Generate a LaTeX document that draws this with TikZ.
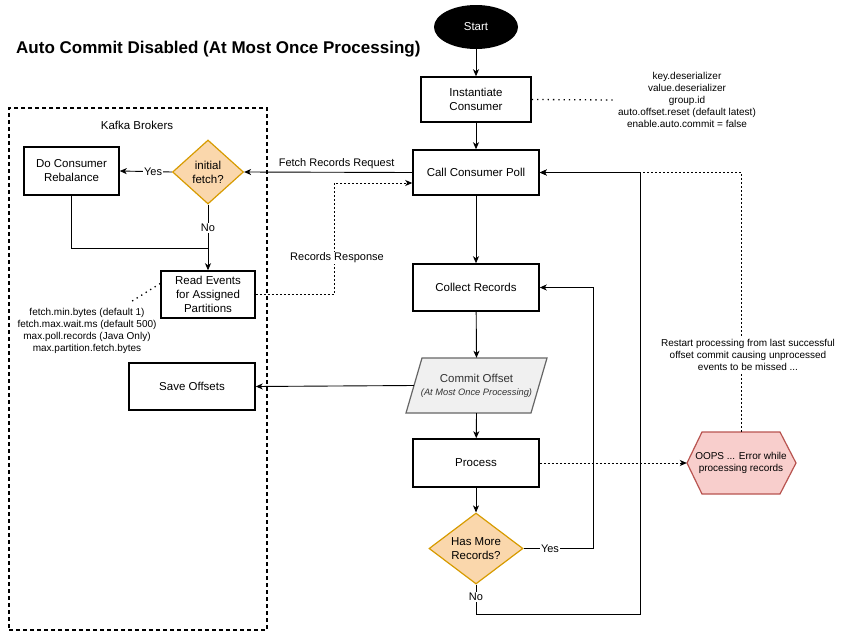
\documentclass[tikz,border=0pt]{standalone}
\usepackage{fontspec}
\setmainfont{Liberation Sans}
\usetikzlibrary{shapes.geometric,arrows.meta,calc}
\definecolor{diafill}{HTML}{FAD7AC}
\definecolor{diadraw}{HTML}{D79B00}
\definecolor{errfill}{HTML}{F8CECC}
\definecolor{errdraw}{HTML}{B85450}
\definecolor{parfill}{HTML}{F0F0F0}
\definecolor{pardraw}{HTML}{666666}
\definecolor{partext}{HTML}{333333}
\begin{document}
\begin{tikzpicture}[x=1pt,y=-1pt,
  box/.style={draw, line width=1.5pt, align=center, inner sep=0pt,
    font=\fontsize{11.5}{14}\selectfont},
  dia/.style={diamond, draw=diadraw, fill=diafill, line width=1.2pt, inner sep=0pt},
  dialbl/.style={align=center, font=\fontsize{11.5}{14}\selectfont, inner sep=0pt},
  conn/.style={line width=0.9pt, -{Stealth[length=7pt,width=6pt,inset=2pt]}},
  plain/.style={line width=0.9pt},
  dsh/.style={line width=0.9pt, dash pattern=on 2pt off 2pt},
  dts/.style={line width=1.3pt, dash pattern=on 1.3pt off 4pt},
  lbl/.style={fill=white, inner sep=1pt, font=\fontsize{11}{13}\selectfont},
  small/.style={align=center, font=\fontsize{10}{12}\selectfont, inner sep=2pt},
]
\useasboundingbox (0,0) rectangle (854,637);

% title
\node[anchor=west, font=\fontsize{17}{20}\bfseries\selectfont, inner sep=0pt] (title) at (16,49) {Auto Commit Disabled (At Most Once Processing)};

% Kafka brokers container
\node[draw, line width=1.5pt, dash pattern=on 4pt off 3pt, minimum width=258pt, minimum height=522pt, inner sep=0pt] (kafka) at (138,369) {};
\node[font=\fontsize{11.5}{14}\selectfont, inner sep=0pt] (kafkalbl) at (137,125) {Kafka Brokers};

% main flow
\node[ellipse, fill=black, text=white, minimum width=84pt, minimum height=44pt, inner sep=0pt, font=\fontsize{11.5}{14}\selectfont] (start) at (476,27) {Start};
\node[box, minimum width=110pt, minimum height=45pt] (inst) at (476,99.5) {Instantiate\\Consumer};
\node[box, minimum width=126pt, minimum height=45pt] (poll) at (476,172.5) {Call Consumer Poll};
\node[box, minimum width=126pt, minimum height=47pt] (collect) at (476,287.5) {Collect Records};

% commit offset parallelogram
\filldraw[fill=parfill, draw=pardraw, line width=1.2pt] (406,413) -- (422,358) -- (547,358) -- (531,413) -- cycle;
\node[minimum width=125pt, minimum height=55pt, inner sep=0pt] (commit) at (476.5,385.5) {};
\node[align=center, text=partext, inner sep=0pt] (committxt) at (476.5,386) {\fontsize{11.5}{14}\selectfont Commit Offset\\[1pt] {\fontsize{9.3}{11}\itshape\selectfont (At Most Once Processing)}};

\node[box, minimum width=126pt, minimum height=48pt] (process) at (476,463) {Process};

\node[dia, minimum width=94pt, minimum height=71pt] (hmr) at (476,548.5) {};
\node[dialbl] (hmrtxt) at (476,548.5) {Has More\\Records?};

% error hexagon
\filldraw[fill=errfill, draw=errdraw, line width=1.2pt] (687,463) -- (702,432) -- (780,432) -- (796,463) -- (780,494) -- (702,494) -- cycle;
\node[minimum width=109pt, minimum height=62pt, inner sep=0pt] (oops) at (741.5,463) {};
\node[align=center, inner sep=0pt, font=\fontsize{10}{12}\selectfont] (oopstxt) at (741,463) {OOPS ... Error while\\processing records};

% kafka side
\node[dia, minimum width=71pt, minimum height=64pt] (init) at (208,172) {};
\node[dialbl] (inittxt) at (208,172) {initial\\fetch?};
\node[box, minimum width=95pt, minimum height=48pt] (rebal) at (71.5,171) {Do Consumer\\Rebalance};
\node[box, minimum width=94pt, minimum height=47pt] (read) at (208,294.5) {Read Events\\for Assigned\\Partitions};
\node[box, minimum width=126pt, minimum height=47pt] (save) at (192,386.5) {Save Offsets};

% config notes
\node[small] (cfg) at (687,100) {key.deserializer\\value.deserializer\\group.id\\auto.offset.reset (default latest)\\enable.auto.commit = false};
\node[small] (fcfg) at (87,331) {fetch.min.bytes (default 1)\\fetch.max.wait.ms (default 500)\\max.poll.records (Java Only)\\max.partition.fetch.bytes};

% coordinates
\coordinate (merge) at (208,248);
\coordinate (rr1) at (334,294.5);
\coordinate (rr2) at (334,183);
\coordinate (yesc) at (593,548.5);
\coordinate (nob) at (476,614);
\coordinate (noc) at (640,614);
\coordinate (fcend) at (129,303);

% main connectors
\draw[conn] (start) -- (inst);
\draw[conn] (inst) -- (poll);
\draw[conn] (poll) -- (collect);
\draw[conn] (collect) -- (commit.north);
\draw[conn] (commit.south) -- (process);
\draw[conn] (process) -- (hmr.north);
\draw[conn] (hmr.east) -- node[lbl, pos=0.38] {Yes} (yesc) |- (collect.east);
\draw[conn] (hmr.south) -- node[lbl, pos=0.43] {No} (nob) -- (noc) |- (poll.east);
\draw[conn] (commit.west) -- (save.east);
\draw[conn, dsh] (process.east) -- (oops.west);
\draw[conn, dsh] (oops.north) |- (poll.east);
\node[small, fill=white, inner sep=1pt] (restart) at (748,355) {Restart processing from last successful\\offset commit causing unprocessed\\events to be missed ...};

% kafka connectors
\draw[conn] (poll.west) -- node[above=2pt, pos=0.45, font=\fontsize{11}{13}\selectfont, inner sep=1pt] (frr) {Fetch Records Request} (init.east);
\draw[conn] (init.west) -- node[lbl, pos=0.36] {Yes} (rebal.east);
\draw[conn] (init.south) -- node[lbl, pos=0.36] {No} (read.north);
\draw[plain] (rebal.south) |- (merge);
\draw[conn, dsh] (read.east) -- (rr1) -- (rr2) -- (rr2 -| poll.west);
\node[lbl] (rrlbl) at (337,258) {Records Response};

% dotted notes
\draw[dts] (inst.east) -- (cfg.west);
\draw[dts] ($(read.west)+(0,-11)$) -- (fcend);
\end{tikzpicture}
\end{document}
